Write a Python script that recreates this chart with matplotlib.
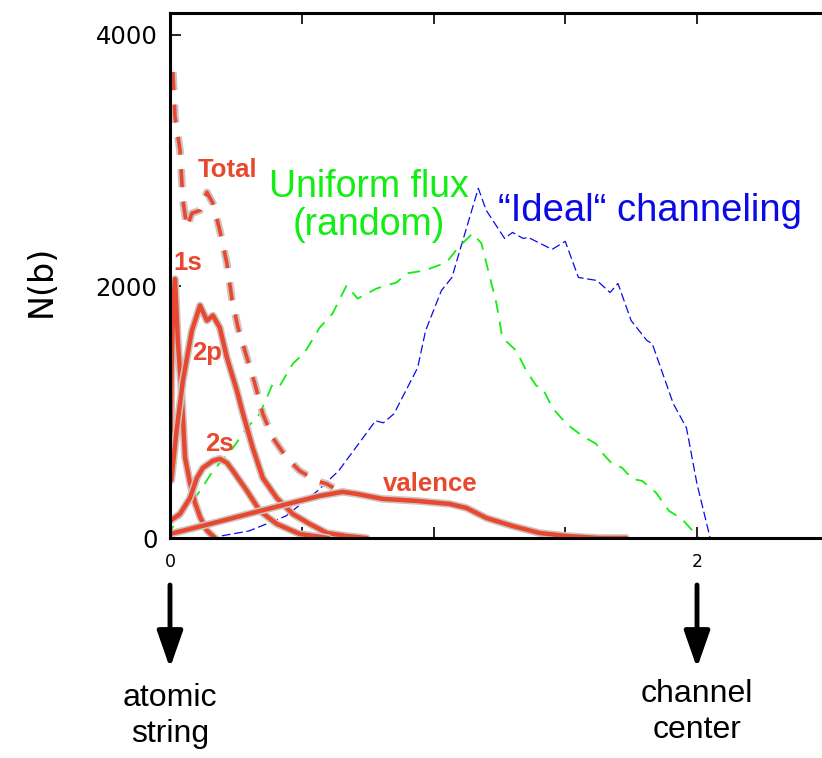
import matplotlib.pyplot as plt
import matplotlib.patheffects as pe
from matplotlib.ticker import MultipleLocator

# Impact-parameter distributions in the channel
blue_x = [0.15, 0.30, 0.44, 0.56, 0.64, 0.78, 0.81, 0.85, 0.94, 0.97, 1.03, 1.07, 1.10, 1.17,
          1.20, 1.27, 1.30, 1.34, 1.36, 1.45, 1.50, 1.55, 1.62, 1.67, 1.70, 1.75, 1.81, 1.83,
          1.91, 1.96, 2.00, 2.05]
blue_y = [0, 56, 175, 375, 534, 932, 916, 988, 1355, 1649, 1968, 2072, 2287, 2781,
          2606, 2382, 2430, 2382, 2390, 2295, 2359, 2072, 2048, 1952, 2024, 1729, 1570, 1546,
          1068, 876, 430, 0]

green_x = [0.0, 0.008, 0.049, 0.114, 0.163, 0.239, 0.292, 0.341, 0.390, 0.417, 0.466, 0.511,
           0.568, 0.617, 0.670, 0.712, 0.784, 0.860, 0.898, 0.966, 1.049, 1.091, 1.148, 1.182,
           1.201, 1.239, 1.261, 1.314, 1.352, 1.390, 1.413, 1.451, 1.504, 1.564, 1.617, 1.640,
           1.678, 1.716, 1.754, 1.792, 1.845, 1.894, 1.943, 2.008]
green_y = [0, 80, 191, 375, 534, 717, 876, 988, 1227, 1211, 1386, 1474,
           1673, 1785, 2008, 1904, 1984, 2032, 2104, 2127, 2191, 2303, 2422, 2343,
           2183, 1865, 1594, 1490, 1331, 1211, 1195, 1036, 908, 813, 749, 677,
           590, 558, 470, 454, 359, 215, 151, 0]

total_x = [0.011, 0.019, 0.038, 0.049, 0.064, 0.083, 0.114, 0.140, 0.163, 0.189, 0.216, 0.235,
           0.258, 0.292, 0.322, 0.352, 0.390, 0.443, 0.492, 0.557, 0.595, 0.62]
total_y = [3705, 3347, 3084, 2685, 2470, 2582, 2606, 2749, 2661, 2446, 2183, 1900,
           1673, 1434, 1227, 988, 797, 637, 534, 454, 430, 400]

s1_x = [0.0, 0.006, 0.012, 0.019, 0.030, 0.045, 0.057, 0.076, 0.095, 0.114, 0.140, 0.171]
s1_y = [450, 1300, 1900, 2060, 1560, 1121, 640, 437, 280, 167, 60, 0]

p2_x = [0.005, 0.025, 0.049, 0.083, 0.114, 0.140, 0.163, 0.189, 0.216, 0.254, 0.277, 0.314,
        0.352, 0.405, 0.466, 0.530, 0.595, 0.670, 0.746]
p2_y = [460, 853, 1251, 1649, 1849, 1729, 1769, 1673, 1434, 1171, 988, 717,
        478, 319, 191, 112, 40, 16, 0]

s2_x = [0.0, 0.038, 0.076, 0.102, 0.125, 0.163, 0.189, 0.216, 0.239, 0.292, 0.341, 0.405,
        0.492, 0.60]
s2_y = [135, 191, 319, 478, 558, 614, 630, 598, 534, 375, 215, 112, 32, 0]

val_x = [0.0, 0.152, 0.341, 0.492, 0.568, 0.655, 0.708, 0.807, 0.936, 1.061, 1.125, 1.201,
         1.299, 1.402, 1.504, 1.629, 1.731]
val_y = [32, 112, 215, 295, 335, 367, 351, 311, 295, 271, 239, 159,
         96, 40, 16, 0, 0]

RED = '#E8482F'
GREEN = '#11EE11'
BLUE = '#0A0AE6'

fig = plt.figure(figsize=(8.22, 7.58), dpi=100)
ax = fig.add_axes([170 / 822, 220 / 758, 652 / 822, 525 / 758])

halo = [pe.Stroke(linewidth=5.5, foreground='#cfc4c2'), pe.Normal()]

ax.plot(blue_x, blue_y, color=BLUE, lw=0.9, dashes=(7, 3))
ax.plot(green_x, green_y, color=GREEN, lw=1.3, dashes=(7, 5))
for xs, ys in [(s1_x, s1_y), (p2_x, p2_y), (s2_x, s2_y), (val_x, val_y)]:
    ax.plot(xs, ys, color=RED, lw=3.2, solid_capstyle='round', path_effects=halo)
ax.plot(total_x, total_y, color=RED, lw=2.6, dashes=(5, 4), path_effects=halo)

# curve labels
red_kw = dict(color=RED, fontsize=18.5, fontweight='bold', family='Liberation Sans',
              ha='center', va='center')
ax.text(0.22, 2926, 'Total', **red_kw)
ax.text(0.066, 2187, '1s', **red_kw)
ax.text(0.140, 1471, '2p', **red_kw)
ax.text(0.186, 747, '2s', **red_kw)
ax.text(0.987, 429, 'valence', **red_kw)
ax.text(0.755, 2640, 'Uniform flux\n(random)', color=GREEN, fontsize=27,
        family='Liberation Sans', ha='center', va='center', linespacing=1.05)
ax.text(1.822, 2600, '“Ideal“ channeling', color=BLUE, fontsize=27.5,
        family='Liberation Sans', ha='center', va='center')

ax.set_xlim(0, 652 / 263.5)
ax.set_ylim(0, 525 / 0.12575)
ax.spines['right'].set_visible(False)
for side in ['left', 'top', 'bottom']:
    ax.spines[side].set_linewidth(2.2)

ax.xaxis.set_major_locator(MultipleLocator(0.5))
ax.xaxis.set_major_formatter(plt.FuncFormatter(lambda v, p: {0.0: '0', 2.0: '2'}.get(round(v, 2), '')))
ax.set_yticks([0, 2000, 4000])
ax.tick_params(axis='x', direction='in', top=True, length=8, width=1.2, labelsize=12.5, pad=11)
ax.tick_params(axis='y', direction='in', length=8, width=1.2, labelsize=17.5, pad=9)
ax.set_ylabel('N(b)', fontsize=24)
ax.yaxis.set_label_coords(-0.172, 0.49)

# arrows pointing to the two ends of the impact-parameter axis
for xv, label, ytxt in [(0, 'atomic\nstring', 716), (2, 'channel\ncenter', 712)]:
    ax.annotate('', xy=(xv, 1 - 668 / 758), xytext=(xv, 1 - 585 / 758),
                xycoords=('data', 'figure fraction'), textcoords=('data', 'figure fraction'),
                arrowprops=dict(arrowstyle='-|>,head_length=0.8,head_width=0.28',
                                mutation_scale=28, lw=3.5, color='black',
                                shrinkA=0, shrinkB=0))
    ax.annotate(label, xy=(xv, 1 - ytxt / 758), xycoords=('data', 'figure fraction'),
                ha='center', va='center', fontsize=23, family='Liberation Sans',
                linespacing=1.25, annotation_clip=False)

fig.savefig('out.png', dpi=100)
